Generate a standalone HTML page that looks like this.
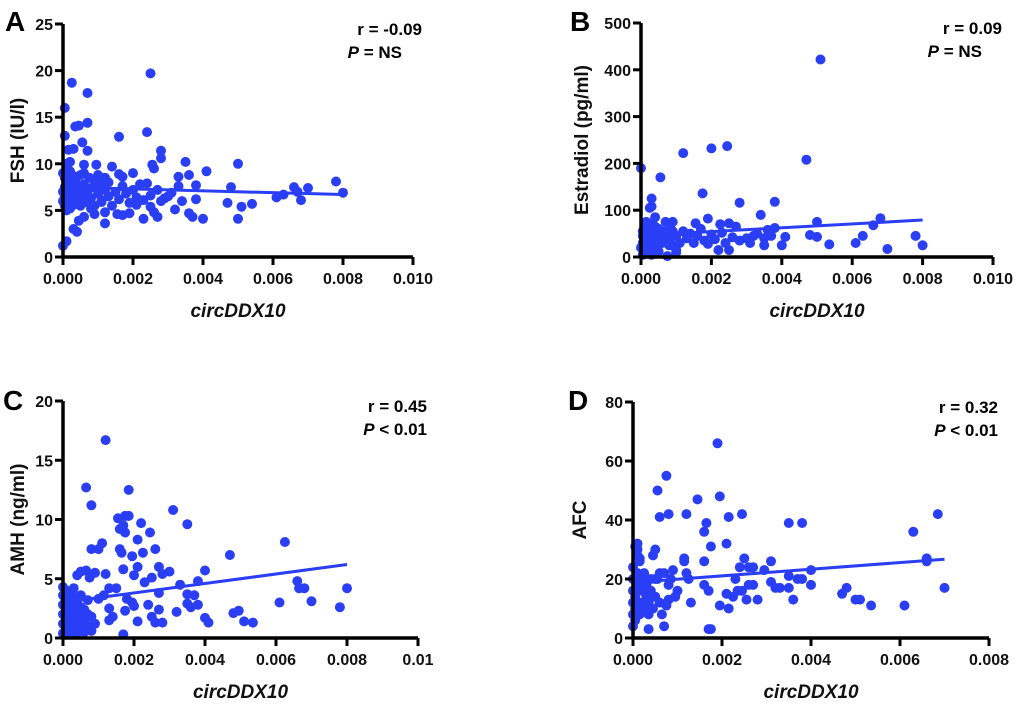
<!DOCTYPE html>
<html><head><meta charset="utf-8">
<style>
html,body{margin:0;padding:0;background:#fff;}
svg{display:block;font-family:"Liberation Sans",sans-serif;}
.tk{font-size:16px;font-weight:bold;fill:#111;}
.tt{font-size:19px;font-weight:bold;fill:#111;}
.lt{font-size:28px;font-weight:bold;fill:#000;}
.st{font-size:17px;font-weight:bold;fill:#000;}
</style></head>
<body>
<svg id="fig" width="1020" height="708" viewBox="0 0 1020 708"></svg>
<script>
// x values in units of 1e-3 (circDDX10)
const xA=[0,0.1,0.05,0.05,0.25,0.7,0.35,0.45,0.7,0.15,0.3,0.55,0.7,0.1,0.2,0.6,0.95,1.0,1.2,1.4,1.6,1.7,2.0,1.6,2.4,2.5,2.55,2.6,2.8,2.8,3.3,3.5,3.6,4.1,3.8,5.0,4.8,4.7,5.0,5.1,5.4,4.0,3.7,3.6,3.8,3.4,3.2,3.0,2.8,2.7,2.6,2.5,2.3,2.1,1.9,1.7,1.2,1.2,0.9,0.6,0.45,0.4,0.3,6.1,6.3,6.6,6.8,7.0,7.8,8.0,6.7,
0.05,0.05,0.05,0.05,0.1,0.15,0.15,0.15,0.2,0.25,0.25,0.25,0.3,0.35,0.35,0.4,0.45,0.5,0.5,0.55,0.6,0.65,0.7,0.75,0.8,0.85,0.9,1.0,1.05,1.1,1.2,1.3,1.3,1.4,1.5,1.6,1.7,1.8,1.9,2.0,2.1,2.2,2.3,2.4,2.5,2.7,2.9,3.1,3.3,1.55,
0.0,0.0,0.0,0.1,0.1,0.2,0.2,0.3,0.3,0.4,0.4,0.5,0.5,0.6,0.6,0.7,0.8,0.9,1.0,1.1];
const yA=[1.2,1.7,16,13,18.7,17.6,14,14.1,14.4,11.5,11.6,12.3,11.4,10,10.2,9.9,9.9,8.8,8.5,9.7,8.9,8.6,9.0,12.9,13.4,19.7,9.9,9.5,11.4,10.6,8.6,10.2,8.8,9.2,7.7,10,7.5,5.8,4.1,5.4,5.7,4.1,4.3,4.7,6.2,6.0,5.1,6.5,6.0,4.3,4.8,5.4,4.1,5.6,4.7,4.5,3.6,4.8,4.6,4.3,3.9,2.7,3.0,6.4,6.7,7.5,6.1,7.4,8.1,6.9,7.0,
5.5,6.5,7.5,8.5,9.2,6,7,8,5.2,6.5,7.5,8.8,5.8,7,8.3,6.2,7.6,5.5,8.8,6.8,7.8,5.9,7,8.5,6.3,7.5,5.5,6.8,7.8,5.9,7.2,6.5,8,5.5,7,6.2,7.6,6.8,5.8,7.2,6.4,7.8,6.1,7.9,6.6,7.2,6.3,6.9,7.6,4.6,
6.0,7.0,9.0,5.0,8.0,6.2,9.2,5.6,7.4,6.6,8.6,5.8,7.2,6.0,9.0,6.4,5.2,8.2,7.3,6.1];
const fitA=[7.5,6.7]; // fitted y at x=0 and x=8e-3

const xB=[0,0.55,0.3,0.25,0.3,1.2,2.0,2.45,1.75,2.8,3.8,3.4,4.7,5.1,5.0,4.8,5.0,5.35,6.1,6.3,6.6,6.8,7.0,7.8,8.0,4.0,4.1,3.8,3.6,3.5,3.2,2.5,2.2,1.9,2.25,2.5,2.7,1.55,0.4,0.7,0.9,0.75,0.3,0.05,1.0,
0.05,0.05,0.05,0.1,0.15,0.2,0.25,0.3,0.35,0.4,0.45,0.5,0.55,0.6,0.65,0.7,0.8,0.85,0.9,1.0,1.1,1.2,1.3,1.4,1.5,1.6,1.7,1.8,1.9,2.0,2.1,2.3,2.4,2.6,2.8,3.0,3.1,3.3,3.5,3.7,0.15,0.2,0.5,1.0,
0.0,0.1,0.1,0.2,0.2,0.3,0.3,0.4,0.4,0.5,0.6,0.7,0.8,0.9];
const yB=[190,170,125,105,108,222,232,237,136,116,118,90,208,422,75,47,43,27,30,45,68,83,17,45,25,25,43,62,58,25,45,15,15,82,70,72,65,72,85,75,75,2,5,5,15,
30,45,55,65,40,25,55,70,35,50,20,60,40,30,55,45,35,60,25,45,30,55,40,50,30,45,60,35,28,48,38,52,30,42,35,40,30,50,40,45,75,10,12,10,
20,35,50,15,60,30,45,20,65,35,50,40,25,55];
const fitB=[46,79];

const xC=[1.2,0.65,0.8,1.85,3.1,3.5,1.55,1.75,1.85,1.7,1.6,1.75,2.2,2.45,2.1,0.8,1.0,1.1,1.6,1.65,1.95,2.25,2.6,4.7,6.25,0.4,0.5,0.65,0.75,0.9,1.2,1.3,1.7,2.0,2.1,2.3,2.5,2.7,2.8,3.0,3.3,3.8,4.0,3.5,3.7,3.5,3.6,3.8,3.2,4.0,4.1,4.8,4.95,5.1,5.35,6.1,6.6,6.65,6.8,7.0,7.8,8.0,2.7,2.4,2.5,2.6,2.8,2.7,2.1,1.95,2.0,1.75,1.7,1.4,1.3,1.3,1.5,1.0,1.15,1.8,
0,0,0,0,0,0,0.1,0.1,0.1,0.1,0.1,0.2,0.2,0.2,0.2,0.2,0.3,0.3,0.3,0.3,0.3,0.4,0.4,0.4,0.4,0.5,0.5,0.5,0.5,0.6,0.6,0.6,0.7,0.7,0.7,0.8,0.8,0.9,0.05,0.15,0.25,0.35,0.45,0.55,0.65];
const yC=[16.7,12.7,11.2,12.5,10.8,9.6,10.1,10.3,10.3,9.5,9.2,8.9,9.7,8.9,8.3,7.5,7.5,8,7.5,7.2,6.9,7.2,7.5,7.0,8.1,5.3,5.6,5.7,5.1,5.5,5.4,4.2,5.8,5.3,6.0,4.7,5.1,6.0,5.4,5.6,4.5,4.8,5.7,3.7,3.6,2.9,2.6,2.8,2.2,1.7,1.3,2.1,2.3,1.4,1.3,3.0,4.8,4.2,4.2,3.1,2.6,4.2,3.8,2.8,1.8,1.3,1.3,2.4,1.4,3.0,2.7,2.3,0.3,1.8,1.5,2.5,4.2,3.3,3.6,3.3,
0.4,1.2,2.0,2.8,3.6,4.3,0.8,1.6,2.4,3.2,4.0,0.4,1.2,2.0,2.8,3.6,0.8,1.6,2.4,3.2,4.2,0.4,1.2,2.0,3.0,0.8,1.6,2.6,3.6,0.5,1.4,2.4,1.0,2.0,3.2,0.6,1.8,1.2,3.0,1.0,3.8,0.3,1.5,2.2,0.7];
const fitC=[3.0,6.2];

const xD=[1.9,0.75,0.55,1.95,1.45,0.6,0.8,1.2,2.15,2.45,3.5,3.8,1.65,1.6,2.1,1.75,1.6,1.15,1.15,6.85,6.3,6.6,6.6,7.0,6.1,5.35,5.0,5.1,4.8,4.7,4.0,4.0,3.7,3.8,3.6,3.5,3.5,3.3,3.2,3.1,3.1,2.95,2.8,2.7,2.7,2.6,2.55,2.5,2.4,2.6,2.45,2.35,2.3,2.25,2.1,2.15,1.95,1.75,1.7,1.6,1.7,1.3,1.2,1.25,1.0,0.95,0.9,0.8,0.75,0.7,0.35,0.65,0.5,0.45,0.5,0.6,0.7,0.8,0.85,
0,0,0,0,0,0,0.05,0.05,0.05,0.1,0.1,0.1,0.1,0.15,0.15,0.2,0.2,0.2,0.25,0.25,0.3,0.3,0.35,0.35,0.4,0.4,0.45,0.5,0.55,0.6,0.05,0.1,0.15,0.3];
const yD=[66,55,50,48,47,41,42,42,41,42,39,39,39,36,32,31,26,27,26,42,36,27,26,17,11,11,13,13,17,15,18,23,20,20,13,17,21,17,17,19,26,23,13,24,18,18,13,27,24,24,16,16,20,14,15,10,11,3,3,18,16,12,22,20,16,14,23,13,11,4,3,8,20,28,30,22,22,18,20,
4,8,12,16,20,24,6,10,14,18,22,28,32,8,26,12,16,20,10,22,14,18,8,12,20,16,10,14,20,12,31,30,27,18];
const fitD=[18.8,26.7];

const NS="http://www.w3.org/2000/svg";
const svg=document.getElementById('fig');
function mk(tag,attrs,parent){const e=document.createElementNS(NS,tag);for(const k in attrs)e.setAttribute(k,attrs[k]);(parent||svg).appendChild(e);return e;}

const panels=[
 {key:'a',letter:'A',L:63,R:413,T:24,B:257,xmax:10,xlab:['0.000','0.002','0.004','0.006','0.008','0.010'],ymax:25,ystep:5,ytitle:'FSH (IU/l)',ytx:24,r:'r = -0.09',p:' = NS',xs:xA,ys:yA,fit:fitA,fx1:8,lx:5,ly:31},
 {key:'b',letter:'B',L:641,R:993,T:23,B:257,xmax:10,xlab:['0.000','0.002','0.004','0.006','0.008','0.010'],ymax:500,ystep:100,ytitle:'Estradiol (pg/ml)',ytx:588,r:'r =  0.09',p:' = NS',xs:xB,ys:yB,fit:fitB,fx1:8,lx:570,ly:31},
 {key:'c',letter:'C',L:63,R:418,T:401,B:638,xmax:10,xlab:['0.000','0.002','0.004','0.006','0.008','0.01'],ymax:20,ystep:5,ytitle:'AMH (ng/ml)',ytx:24,r:'r =  0.45',p:' < 0.01',xs:xC,ys:yC,fit:fitC,fx1:8,lx:3,ly:410},
 {key:'d',letter:'D',L:633,R:989,T:402,B:638,xmax:8,xlab:['0.000','0.002','0.004','0.006','0.008'],ymax:80,ystep:20,ytitle:'AFC',ytx:586,r:'r =  0.32',p:' < 0.01',xs:xD,ys:yD,fit:fitD,fx1:7,lx:568,ly:410}
];

panels.forEach(P=>{
 const g=mk('g',{});
 
 
 const sx=v=>P.L+(v/P.xmax)*(P.R-P.L);
 const sy=v=>P.B-(v/P.ymax)*(P.B-P.T);
 const pg=mk('g',{},g);
 
 
 for(let i=0;i<P.xs.length;i++){
  const c=mk('circle',{cx:sx(P.xs[i]).toFixed(1),cy:sy(P.ys[i]).toFixed(1),r:5,fill:'#2a3ff5'},pg);
  
  
 }
 const fl=mk('line',{x1:sx(0),y1:sy(P.fit[0]),x2:sx(P.fx1),y2:sy(P.fit[1]),stroke:'#2a3ff5','stroke-width':3},g);
 
 
 const ax=mk('path',{d:`M${P.L},${P.T} V${P.B} H${P.R}`,fill:'none',stroke:'#000','stroke-width':3.5},g);
 
 
 for(let v=0;v<=P.ymax;v+=P.ystep){
  const y=sy(v);
  mk('line',{x1:P.L-8,y1:y,x2:P.L,y2:y,stroke:'#000','stroke-width':3},g);
  const t=mk('text',{x:P.L-10,y:y+6,'text-anchor':'end',class:'tk'},g);
  t.textContent=v;
  
  
 }
 P.xlab.forEach((lab,i)=>{
  const x=sx(i*2);
  mk('line',{x1:x,y1:P.B,x2:x,y2:P.B+8,stroke:'#000','stroke-width':3},g);
  const t=mk('text',{x:x,y:P.B+27,'text-anchor':'middle',class:'tk'},g);
  t.textContent=lab;
  
  
 });
 const xt=mk('text',{x:(P.L+P.R)/2,y:P.B+60,'text-anchor':'middle',class:'tt','font-style':'italic'},g);
 xt.textContent='circDDX10';
 
 
 const yc=(P.T+P.B)/2;
 const yt=mk('text',{x:P.ytx,y:yc,'text-anchor':'middle',class:'tt',transform:`rotate(-90 ${P.ytx} ${yc})`},g);
 yt.textContent=P.ytitle;
 
 
 const lt=mk('text',{x:P.lx,y:P.ly,class:'lt'},g);
 lt.textContent=P.letter;
 
 
 const rx=P.R+9;
 const r1=mk('text',{x:rx,y:P.T+11,'text-anchor':'end',class:'st'},g);
 r1.textContent=P.r;
 
 
 const r2=mk('text',{x:rx-(P.p.length>5?0:20),y:P.T+34,'text-anchor':'end',class:'st'},g);
 const ti=mk('tspan',{'font-style':'italic'},r2);ti.textContent='P';
 const tn=mk('tspan',{},r2);tn.textContent=P.p;
 
 
});
</script>
</body></html>
